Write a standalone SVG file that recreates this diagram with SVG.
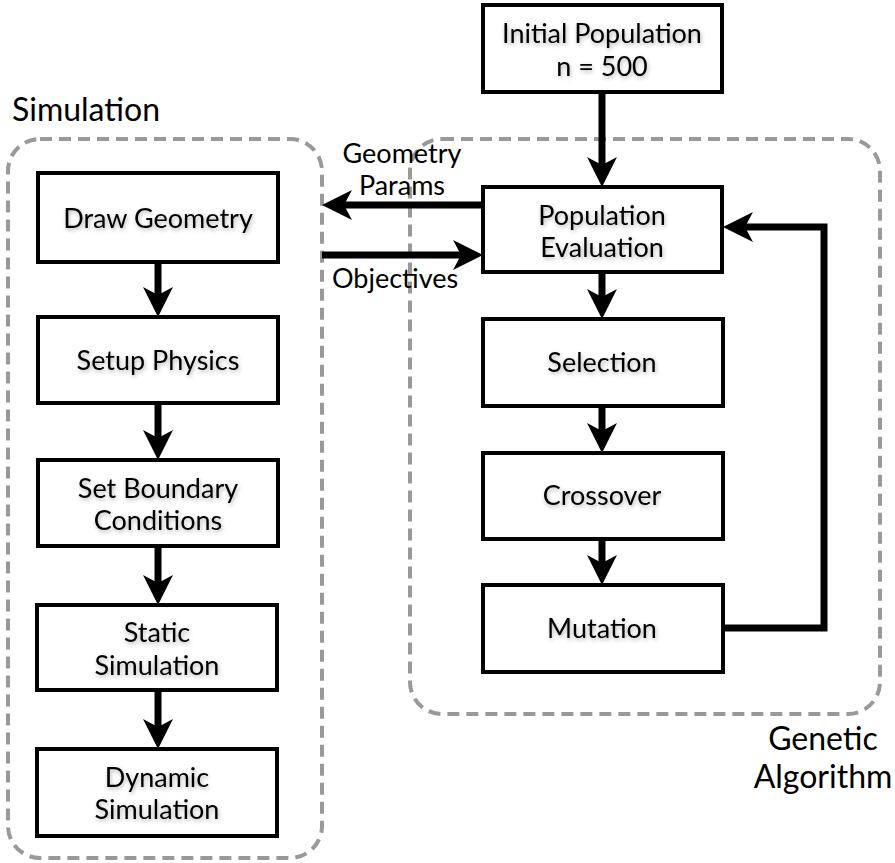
<svg xmlns="http://www.w3.org/2000/svg" width="895" height="863" viewBox="0 0 895 863">
<style>
.grp{fill:none;stroke:#999;stroke-width:4;stroke-dasharray:12 7}
.box{fill:#fff;stroke:#000;stroke-width:4}
.t{font-family:Lato,"Liberation Sans",sans-serif;font-size:27px;fill:#000;text-anchor:middle;filter:url(#sh)}
.lbl{font-family:Lato,"Liberation Sans",sans-serif;font-size:27px;fill:#000}
.big{font-family:Lato,"Liberation Sans",sans-serif;font-size:32px;fill:#000}
.c{fill:none;stroke:#000;stroke-width:7;marker-end:url(#ah)}
</style>
<defs>
<filter id="sh" x="-10%" y="-30%" width="120%" height="160%">
<feDropShadow dx="1" dy="2" stdDeviation="2" flood-color="#000" flood-opacity="0.3"/>
</filter>
<marker id="ah" markerUnits="userSpaceOnUse" viewBox="0 -15 30 30" markerWidth="30" markerHeight="30" refX="18" refY="0" orient="auto">
<path d="M0,-15 L30,0 L0,15 L8,0 Z" fill="#000"/>
</marker>
</defs>
<g id="simulation-group">
<rect class="grp" x="8" y="139" width="314" height="719" rx="32"/>
<text class="big" x="12" y="121">Simulation</text>
</g>
<g id="ga-group">
<rect class="grp" x="410" y="139" width="470" height="575" rx="32"/>
<text class="big" x="823" y="750" text-anchor="middle">Genetic</text>
<text class="big" x="823" y="788" text-anchor="middle">Algorithm</text>
</g>
<g id="connectors">
<path class="c" d="M158,262 V305"/>
<path class="c" d="M158,403 V448"/>
<path class="c" d="M158,546 V593"/>
<path class="c" d="M158,690 V737"/>
<path class="c" d="M602,92 V175"/>
<path class="c" d="M602,272 V307"/>
<path class="c" d="M602,406 V441"/>
<path class="c" d="M602,539 V573"/>
<path class="c" d="M723,628 H824 V227 H735"/>
<path class="c" d="M483,205 H334"/>
<path class="c" d="M322,255 H471"/>
<text class="lbl" x="402" y="163" text-anchor="middle">Geometry</text>
<text class="lbl" x="402" y="195" text-anchor="middle">Params</text>
<text class="lbl" x="332" y="288">Objectives</text>
</g>
<g id="draw-geometry">
<rect class="box" x="38" y="173" width="240" height="89"/>
<text class="t" x="158" y="228">Draw Geometry</text>
</g>
<g id="setup-physics">
<rect class="box" x="38" y="317" width="240" height="86"/>
<text class="t" x="158" y="370">Setup Physics</text>
</g>
<g id="set-boundary-conditions">
<rect class="box" x="38" y="460" width="240" height="86"/>
<text class="t" x="158" y="498">Set Boundary</text>
<text class="t" x="158" y="530">Conditions</text>
</g>
<g id="static-simulation">
<rect class="box" x="37" y="605" width="240" height="85"/>
<text class="t" x="157" y="642">Static</text>
<text class="t" x="157" y="675">Simulation</text>
</g>
<g id="dynamic-simulation">
<rect class="box" x="37" y="749" width="240" height="87"/>
<text class="t" x="157" y="787">Dynamic</text>
<text class="t" x="157" y="819">Simulation</text>
</g>
<g id="initial-population">
<rect class="box" x="483" y="5" width="239" height="87"/>
<text class="t" x="602" y="43">Initial Population</text>
<text class="t" x="602" y="76">n = 500</text>
</g>
<g id="population-evaluation">
<rect class="box" x="483" y="187" width="239" height="85"/>
<text class="t" x="602" y="225">Population</text>
<text class="t" x="602" y="257">Evaluation</text>
</g>
<g id="selection">
<rect class="box" x="483" y="319" width="240" height="87"/>
<text class="t" x="602" y="372">Selection</text>
</g>
<g id="crossover">
<rect class="box" x="483" y="453" width="240" height="86"/>
<text class="t" x="602" y="505">Crossover</text>
</g>
<g id="mutation">
<rect class="box" x="483" y="585" width="240" height="87"/>
<text class="t" x="602" y="638">Mutation</text>
</g>
</svg>
